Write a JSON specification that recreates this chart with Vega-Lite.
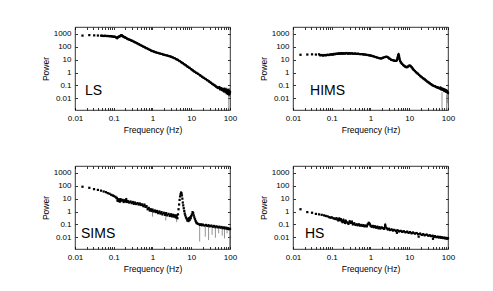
{
"$schema":"https://vega.github.io/schema/vega-lite/v6.json",
"autosize":{"type":"pad"},
"padding":{"left":40,"top":26,"right":5,"bottom":5},
"background":"white",
"config":{"view":{"stroke":"#000","strokeWidth":0.8},
"axis":{"grid":false,"domain":false,"tickSize":-2.5,"tickColor":"#000","tickWidth":0.8,"labelPadding":6.5,"titlePadding":3,"labelFont":"Liberation Sans","labelFontSize":8,"labelColor":"#000","titleFont":"Liberation Sans","titleFontSize":8.5,"titleFontWeight":"normal","titleColor":"#000","labelOverlap":false,"labelFlush":false},
"text":{"font":"Liberation Sans"}},
"datasets":{
"labels":[{"panel":"LS","f":0.018,"p":0.035,"name":"LS"},{"panel":"HIMS","f":0.0275,"p":0.035,"name":"HIMS"},{"panel":"SIMS","f":0.0143,"p":0.017,"name":"SIMS"},{"panel":"HS","f":0.0204,"p":0.017,"name":"HS"}],
"spikes":[
{"panel":"LS","f":93,"top":0.025,"bottom":0.0012},
{"panel":"HIMS","f":70,"top":0.03,"bottom":0.0012},
{"panel":"HIMS","f":92,"top":0.02,"bottom":0.0012},
{"panel":"HIMS","f":98,"top":0.02,"bottom":0.004},
{"panel":"SIMS","f":1.0,"top":1.0,"bottom":0.4},
{"panel":"SIMS","f":2.2,"top":0.5,"bottom":0.2},
{"panel":"SIMS","f":4.2,"top":0.4,"bottom":0.15},
{"panel":"SIMS","f":16.5,"top":0.1,"bottom":0.0046},
{"panel":"SIMS","f":23,"top":0.09,"bottom":0.011},
{"panel":"SIMS","f":28,"top":0.085,"bottom":0.006},
{"panel":"SIMS","f":34.5,"top":0.08,"bottom":0.015},
{"panel":"SIMS","f":42,"top":0.06,"bottom":0.009},
{"panel":"SIMS","f":51,"top":0.06,"bottom":0.02},
{"panel":"SIMS","f":63,"top":0.06,"bottom":0.013},
{"panel":"SIMS","f":72,"top":0.055,"bottom":0.008},
{"panel":"SIMS","f":84,"top":0.05,"bottom":0.02},
{"panel":"SIMS","f":98,"top":0.045,"bottom":0.0012}
],
"pts":[
{"panel":"LS","f":0.0156,"p":750,"d":0},{"panel":"LS","f":0.0234,"p":820,"d":0},{"panel":"LS","f":0.0313,"p":780,"d":0},{"panel":"LS","f":0.039,"p":760,"d":0},{"panel":"LS","f":0.047,"p":740,"d":0},
{"panel":"LS","f":0.05,"p":730,"d":1},{"panel":"LS","f":0.055,"p":700,"d":1},{"panel":"LS","f":0.06,"p":720,"d":1},{"panel":"LS","f":0.066,"p":690,"d":1},{"panel":"LS","f":0.072,"p":700,"d":1},{"panel":"LS","f":0.078,"p":670,"d":1},{"panel":"LS","f":0.085,"p":680,"d":1},{"panel":"LS","f":0.092,"p":640,"d":1},{"panel":"LS","f":0.1,"p":620,"d":1},{"panel":"LS","f":0.107,"p":600,"d":1},{"panel":"LS","f":0.115,"p":540,"d":1},{"panel":"LS","f":0.122,"p":480,"d":1},{"panel":"LS","f":0.128,"p":560,"d":1},{"panel":"LS","f":0.135,"p":620,"d":1},{"panel":"LS","f":0.142,"p":650,"d":1},{"panel":"LS","f":0.15,"p":720,"d":1},{"panel":"LS","f":0.157,"p":800,"d":1},{"panel":"LS","f":0.163,"p":760,"d":1},{"panel":"LS","f":0.17,"p":680,"d":1},{"panel":"LS","f":0.18,"p":600,"d":1},{"panel":"LS","f":0.19,"p":560,"d":1},{"panel":"LS","f":0.2,"p":520,"d":1},{"panel":"LS","f":0.22,"p":440,"d":1},{"panel":"LS","f":0.24,"p":390,"d":1},{"panel":"LS","f":0.26,"p":350,"d":1},{"panel":"LS","f":0.28,"p":320,"d":1},{"panel":"LS","f":0.3,"p":290,"d":1},{"panel":"LS","f":0.33,"p":250,"d":1},{"panel":"LS","f":0.36,"p":220,"d":1},{"panel":"LS","f":0.4,"p":190,"d":1},{"panel":"LS","f":0.44,"p":160,"d":1},{"panel":"LS","f":0.48,"p":140,"d":1},{"panel":"LS","f":0.53,"p":120,"d":1},{"panel":"LS","f":0.58,"p":105,"d":1},{"panel":"LS","f":0.64,"p":90,"d":1},{"panel":"LS","f":0.7,"p":78,"d":1},{"panel":"LS","f":0.77,"p":68,"d":1},{"panel":"LS","f":0.85,"p":58,"d":1},{"panel":"LS","f":0.93,"p":51,"d":1},{"panel":"LS","f":1.0,"p":46,"d":1},{"panel":"LS","f":1.1,"p":42,"d":1},{"panel":"LS","f":1.2,"p":38,"d":1},{"panel":"LS","f":1.35,"p":34,"d":1},{"panel":"LS","f":1.5,"p":31,"d":1},{"panel":"LS","f":1.7,"p":28,"d":1},{"panel":"LS","f":1.9,"p":25,"d":1},{"panel":"LS","f":2.1,"p":23,"d":1},{"panel":"LS","f":2.4,"p":21,"d":1},{"panel":"LS","f":2.7,"p":19,"d":1},{"panel":"LS","f":3.0,"p":17,"d":1},{"panel":"LS","f":3.3,"p":15,"d":1},{"panel":"LS","f":3.7,"p":13,"d":1},{"panel":"LS","f":4.1,"p":11,"d":1},{"panel":"LS","f":4.5,"p":9.5,"d":1},{"panel":"LS","f":5,"p":7.8,"d":1},{"panel":"LS","f":5.5,"p":6.4,"d":1},{"panel":"LS","f":6,"p":5.4,"d":1},{"panel":"LS","f":6.6,"p":4.4,"d":1},{"panel":"LS","f":7.2,"p":3.7,"d":1},{"panel":"LS","f":8,"p":2.9,"d":1},{"panel":"LS","f":9,"p":2.3,"d":1},{"panel":"LS","f":10,"p":1.8,"d":1},{"panel":"LS","f":11,"p":1.45,"d":1},{"panel":"LS","f":12,"p":1.2,"d":1},{"panel":"LS","f":13.5,"p":0.95,"d":1},{"panel":"LS","f":15,"p":0.78,"d":1},{"panel":"LS","f":17,"p":0.6,"d":1},{"panel":"LS","f":19,"p":0.47,"d":1},{"panel":"LS","f":21,"p":0.38,"d":1},{"panel":"LS","f":23.5,"p":0.31,"d":1},{"panel":"LS","f":26,"p":0.25,"d":1},{"panel":"LS","f":29,"p":0.2,"d":1},{"panel":"LS","f":32,"p":0.16,"d":1},{"panel":"LS","f":35,"p":0.13,"d":1},{"panel":"LS","f":38,"p":0.11,"d":1},{"panel":"LS","f":41,"p":0.095,"d":1},{"panel":"LS","f":44,"p":0.08,"d":1},{"panel":"LS","f":47,"p":0.07,"d":1},{"panel":"LS","f":50,"p":0.062,"d":1},{"panel":"LS","f":53,"p":0.07,"d":1},{"panel":"LS","f":56,"p":0.05,"d":1},{"panel":"LS","f":59,"p":0.058,"d":1},{"panel":"LS","f":62,"p":0.045,"d":1},{"panel":"LS","f":65,"p":0.052,"d":1},{"panel":"LS","f":68,"p":0.038,"d":1},{"panel":"LS","f":71,"p":0.048,"d":1},{"panel":"LS","f":74,"p":0.035,"d":1},{"panel":"LS","f":77,"p":0.044,"d":1},{"panel":"LS","f":80,"p":0.03,"d":1},{"panel":"LS","f":83,"p":0.04,"d":1},{"panel":"LS","f":86,"p":0.028,"d":1},{"panel":"LS","f":89,"p":0.036,"d":1},{"panel":"LS","f":92,"p":0.025,"d":1},{"panel":"LS","f":95,"p":0.034,"d":1},{"panel":"LS","f":98,"p":0.024,"d":1},{"panel":"LS","f":100,"p":0.03,"d":1},

{"panel":"HIMS","f":0.0156,"p":24,"d":0},{"panel":"HIMS","f":0.0234,"p":25,"d":0},{"panel":"HIMS","f":0.031,"p":26,"d":0},{"panel":"HIMS","f":0.039,"p":25,"d":0},{"panel":"HIMS","f":0.047,"p":26,"d":0},
{"panel":"HIMS","f":0.05,"p":22,"d":1},{"panel":"HIMS","f":0.055,"p":23,"d":1},{"panel":"HIMS","f":0.06,"p":21,"d":1},{"panel":"HIMS","f":0.066,"p":23,"d":1},{"panel":"HIMS","f":0.072,"p":22,"d":1},{"panel":"HIMS","f":0.078,"p":24,"d":1},{"panel":"HIMS","f":0.085,"p":23,"d":1},{"panel":"HIMS","f":0.092,"p":25,"d":1},{"panel":"HIMS","f":0.1,"p":26,"d":1},{"panel":"HIMS","f":0.107,"p":25,"d":1},{"panel":"HIMS","f":0.115,"p":28,"d":1},{"panel":"HIMS","f":0.122,"p":27,"d":1},{"panel":"HIMS","f":0.13,"p":29,"d":1},{"panel":"HIMS","f":0.14,"p":28,"d":1},{"panel":"HIMS","f":0.15,"p":31,"d":1},{"panel":"HIMS","f":0.16,"p":29,"d":1},{"panel":"HIMS","f":0.17,"p":30,"d":1},{"panel":"HIMS","f":0.18,"p":32,"d":1},{"panel":"HIMS","f":0.19,"p":29,"d":1},{"panel":"HIMS","f":0.2,"p":31,"d":1},{"panel":"HIMS","f":0.22,"p":30,"d":1},{"panel":"HIMS","f":0.24,"p":33,"d":1},{"panel":"HIMS","f":0.26,"p":29,"d":1},{"panel":"HIMS","f":0.28,"p":32,"d":1},{"panel":"HIMS","f":0.3,"p":30,"d":1},{"panel":"HIMS","f":0.33,"p":31,"d":1},{"panel":"HIMS","f":0.36,"p":29,"d":1},{"panel":"HIMS","f":0.4,"p":30,"d":1},{"panel":"HIMS","f":0.44,"p":28,"d":1},{"panel":"HIMS","f":0.48,"p":29,"d":1},{"panel":"HIMS","f":0.53,"p":27,"d":1},{"panel":"HIMS","f":0.58,"p":27,"d":1},{"panel":"HIMS","f":0.64,"p":26,"d":1},{"panel":"HIMS","f":0.7,"p":25,"d":1},{"panel":"HIMS","f":0.77,"p":24,"d":1},{"panel":"HIMS","f":0.85,"p":23,"d":1},{"panel":"HIMS","f":0.93,"p":22,"d":1},{"panel":"HIMS","f":1.0,"p":21,"d":1},{"panel":"HIMS","f":1.1,"p":19.5,"d":1},{"panel":"HIMS","f":1.2,"p":18,"d":1},{"panel":"HIMS","f":1.35,"p":16,"d":1},{"panel":"HIMS","f":1.5,"p":14.5,"d":1},{"panel":"HIMS","f":1.7,"p":13,"d":1},{"panel":"HIMS","f":1.9,"p":12.5,"d":1},{"panel":"HIMS","f":2.1,"p":14,"d":1},{"panel":"HIMS","f":2.35,"p":16,"d":1},{"panel":"HIMS","f":2.6,"p":17,"d":1},{"panel":"HIMS","f":2.85,"p":15,"d":1},{"panel":"HIMS","f":3.1,"p":12,"d":1},{"panel":"HIMS","f":3.4,"p":10,"d":1},{"panel":"HIMS","f":3.7,"p":9.2,"d":1},{"panel":"HIMS","f":4.0,"p":8.5,"d":1},{"panel":"HIMS","f":4.3,"p":8,"d":1},{"panel":"HIMS","f":4.6,"p":8,"d":1},{"panel":"HIMS","f":4.85,"p":9.5,"d":1},{"panel":"HIMS","f":5.0,"p":14,"d":1},{"panel":"HIMS","f":5.15,"p":22,"d":1},{"panel":"HIMS","f":5.3,"p":25,"d":1},{"panel":"HIMS","f":5.45,"p":19,"d":1},{"panel":"HIMS","f":5.6,"p":12,"d":1},{"panel":"HIMS","f":5.8,"p":8,"d":1},{"panel":"HIMS","f":6.1,"p":6,"d":1},{"panel":"HIMS","f":6.5,"p":4.8,"d":1},{"panel":"HIMS","f":7,"p":3.8,"d":1},{"panel":"HIMS","f":7.5,"p":3.2,"d":1},{"panel":"HIMS","f":8,"p":2.8,"d":1},{"panel":"HIMS","f":8.5,"p":2.6,"d":1},{"panel":"HIMS","f":9,"p":2.7,"d":1},{"panel":"HIMS","f":9.6,"p":3.2,"d":1},{"panel":"HIMS","f":10.2,"p":3.5,"d":1},{"panel":"HIMS","f":10.8,"p":3.2,"d":1},{"panel":"HIMS","f":11.5,"p":2.6,"d":1},{"panel":"HIMS","f":12.3,"p":2.0,"d":1},{"panel":"HIMS","f":13,"p":1.6,"d":1},{"panel":"HIMS","f":14,"p":1.3,"d":1},{"panel":"HIMS","f":15,"p":1.05,"d":1},{"panel":"HIMS","f":16.5,"p":0.82,"d":1},{"panel":"HIMS","f":18,"p":0.65,"d":1},{"panel":"HIMS","f":19.5,"p":0.52,"d":1},{"panel":"HIMS","f":21,"p":0.43,"d":1},{"panel":"HIMS","f":23,"p":0.35,"d":1},{"panel":"HIMS","f":25,"p":0.29,"d":1},{"panel":"HIMS","f":27,"p":0.24,"d":1},{"panel":"HIMS","f":29,"p":0.2,"d":1},{"panel":"HIMS","f":31.5,"p":0.17,"d":1},{"panel":"HIMS","f":34,"p":0.14,"d":1},{"panel":"HIMS","f":37,"p":0.12,"d":1},{"panel":"HIMS","f":40,"p":0.1,"d":1},{"panel":"HIMS","f":43,"p":0.09,"d":1},{"panel":"HIMS","f":46,"p":0.085,"d":1},{"panel":"HIMS","f":49,"p":0.075,"d":1},{"panel":"HIMS","f":52,"p":0.07,"d":1},{"panel":"HIMS","f":55,"p":0.068,"d":1},{"panel":"HIMS","f":58,"p":0.062,"d":1},{"panel":"HIMS","f":61,"p":0.058,"d":1},{"panel":"HIMS","f":64,"p":0.065,"d":1},{"panel":"HIMS","f":67,"p":0.05,"d":1},{"panel":"HIMS","f":70,"p":0.055,"d":1},{"panel":"HIMS","f":73,"p":0.045,"d":1},{"panel":"HIMS","f":76,"p":0.05,"d":1},{"panel":"HIMS","f":79,"p":0.04,"d":1},{"panel":"HIMS","f":82,"p":0.045,"d":1},{"panel":"HIMS","f":85,"p":0.036,"d":1},{"panel":"HIMS","f":88,"p":0.04,"d":1},{"panel":"HIMS","f":91,"p":0.032,"d":1},{"panel":"HIMS","f":94,"p":0.036,"d":1},{"panel":"HIMS","f":97,"p":0.03,"d":1},{"panel":"HIMS","f":100,"p":0.025,"d":1},

{"panel":"SIMS","f":0.0156,"p":85,"d":0},{"panel":"SIMS","f":0.0234,"p":70,"d":0},{"panel":"SIMS","f":0.031,"p":55,"d":0},{"panel":"SIMS","f":0.039,"p":48,"d":0},{"panel":"SIMS","f":0.047,"p":42,"d":0},{"panel":"SIMS","f":0.055,"p":36,"d":0},{"panel":"SIMS","f":0.063,"p":32,"d":0},{"panel":"SIMS","f":0.07,"p":27,"d":0},{"panel":"SIMS","f":0.078,"p":24,"d":0},{"panel":"SIMS","f":0.086,"p":20,"d":0},{"panel":"SIMS","f":0.094,"p":18,"d":0},{"panel":"SIMS","f":0.1,"p":16,"d":0},{"panel":"SIMS","f":0.11,"p":14,"d":0},{"panel":"SIMS","f":0.117,"p":12,"d":0},
{"panel":"SIMS","f":0.12,"p":11,"d":1},{"panel":"SIMS","f":0.125,"p":7,"d":1},{"panel":"SIMS","f":0.13,"p":9,"d":1},{"panel":"SIMS","f":0.135,"p":6.5,"d":1},{"panel":"SIMS","f":0.14,"p":8.5,"d":1},{"panel":"SIMS","f":0.145,"p":6,"d":1},{"panel":"SIMS","f":0.15,"p":9,"d":1},{"panel":"SIMS","f":0.16,"p":7,"d":1},{"panel":"SIMS","f":0.17,"p":8,"d":1},{"panel":"SIMS","f":0.18,"p":5.5,"d":1},{"panel":"SIMS","f":0.19,"p":7.5,"d":1},{"panel":"SIMS","f":0.2,"p":6,"d":1},{"panel":"SIMS","f":0.21,"p":9,"d":1},{"panel":"SIMS","f":0.22,"p":5.5,"d":1},{"panel":"SIMS","f":0.23,"p":6.5,"d":1},{"panel":"SIMS","f":0.25,"p":5,"d":1},{"panel":"SIMS","f":0.27,"p":6,"d":1},{"panel":"SIMS","f":0.29,"p":4.5,"d":1},{"panel":"SIMS","f":0.31,"p":5.5,"d":1},{"panel":"SIMS","f":0.33,"p":4,"d":1},{"panel":"SIMS","f":0.35,"p":5,"d":1},{"panel":"SIMS","f":0.38,"p":3.8,"d":1},{"panel":"SIMS","f":0.41,"p":4.5,"d":1},{"panel":"SIMS","f":0.44,"p":3.5,"d":1},{"panel":"SIMS","f":0.47,"p":4.2,"d":1},{"panel":"SIMS","f":0.5,"p":3.2,"d":1},{"panel":"SIMS","f":0.54,"p":3.6,"d":1},{"panel":"SIMS","f":0.58,"p":2.6,"d":1},{"panel":"SIMS","f":0.62,"p":3.4,"d":1},{"panel":"SIMS","f":0.66,"p":2.3,"d":1},{"panel":"SIMS","f":0.7,"p":2.6,"d":1},{"panel":"SIMS","f":0.75,"p":1.5,"d":1},{"panel":"SIMS","f":0.8,"p":1.9,"d":1},{"panel":"SIMS","f":0.85,"p":1.2,"d":1},{"panel":"SIMS","f":0.9,"p":1.5,"d":1},{"panel":"SIMS","f":0.95,"p":1.1,"d":1},{"panel":"SIMS","f":1.0,"p":1.4,"d":1},{"panel":"SIMS","f":1.07,"p":1.0,"d":1},{"panel":"SIMS","f":1.15,"p":1.2,"d":1},{"panel":"SIMS","f":1.22,"p":0.9,"d":1},{"panel":"SIMS","f":1.3,"p":1.1,"d":1},{"panel":"SIMS","f":1.4,"p":0.75,"d":1},{"panel":"SIMS","f":1.5,"p":1.0,"d":1},{"panel":"SIMS","f":1.6,"p":0.7,"d":1},{"panel":"SIMS","f":1.7,"p":0.9,"d":1},{"panel":"SIMS","f":1.8,"p":0.6,"d":1},{"panel":"SIMS","f":1.95,"p":0.8,"d":1},{"panel":"SIMS","f":2.1,"p":0.55,"d":1},{"panel":"SIMS","f":2.25,"p":0.75,"d":1},{"panel":"SIMS","f":2.4,"p":0.5,"d":1},{"panel":"SIMS","f":2.6,"p":0.65,"d":1},{"panel":"SIMS","f":2.8,"p":0.45,"d":1},{"panel":"SIMS","f":3.0,"p":0.6,"d":1},{"panel":"SIMS","f":3.2,"p":0.42,"d":1},{"panel":"SIMS","f":3.4,"p":0.55,"d":1},{"panel":"SIMS","f":3.6,"p":0.4,"d":1},{"panel":"SIMS","f":3.8,"p":0.5,"d":1},{"panel":"SIMS","f":4.0,"p":0.35,"d":1},{"panel":"SIMS","f":4.2,"p":0.48,"d":1},{"panel":"SIMS","f":4.4,"p":0.3,"d":1},
{"panel":"SIMS","f":4.55,"p":0.6,"d":0},{"panel":"SIMS","f":4.7,"p":1.5,"d":0},{"panel":"SIMS","f":4.85,"p":3.5,"d":0},{"panel":"SIMS","f":5.0,"p":8,"d":0},{"panel":"SIMS","f":5.15,"p":15,"d":0},{"panel":"SIMS","f":5.3,"p":22,"d":0},{"panel":"SIMS","f":5.45,"p":30,"d":0},{"panel":"SIMS","f":5.6,"p":26,"d":0},{"panel":"SIMS","f":5.75,"p":18,"d":0},{"panel":"SIMS","f":5.9,"p":10,"d":0},{"panel":"SIMS","f":6.05,"p":5,"d":0},{"panel":"SIMS","f":6.2,"p":3,"d":0},{"panel":"SIMS","f":6.4,"p":1.8,"d":0},{"panel":"SIMS","f":6.6,"p":1.1,"d":0},{"panel":"SIMS","f":6.8,"p":0.7,"d":0},{"panel":"SIMS","f":7.0,"p":0.5,"d":0},{"panel":"SIMS","f":7.3,"p":0.35,"d":0},{"panel":"SIMS","f":7.6,"p":0.28,"d":0},{"panel":"SIMS","f":7.9,"p":0.2,"d":0},{"panel":"SIMS","f":8.2,"p":0.25,"d":0},{"panel":"SIMS","f":8.5,"p":0.18,"d":0},{"panel":"SIMS","f":8.8,"p":0.3,"d":0},{"panel":"SIMS","f":9.1,"p":0.22,"d":0},{"panel":"SIMS","f":9.4,"p":0.35,"d":0},{"panel":"SIMS","f":9.7,"p":0.3,"d":0},{"panel":"SIMS","f":10,"p":0.45,"d":0},{"panel":"SIMS","f":10.4,"p":0.6,"d":0},{"panel":"SIMS","f":10.8,"p":0.9,"d":0},{"panel":"SIMS","f":11.2,"p":0.75,"d":0},{"panel":"SIMS","f":11.6,"p":0.5,"d":0},{"panel":"SIMS","f":12,"p":0.35,"d":0},{"panel":"SIMS","f":12.5,"p":0.25,"d":0},
{"panel":"SIMS","f":13,"p":0.18,"d":2},{"panel":"SIMS","f":13.5,"p":0.14,"d":2},{"panel":"SIMS","f":14,"p":0.12,"d":2},{"panel":"SIMS","f":15,"p":0.11,"d":2},{"panel":"SIMS","f":16,"p":0.1,"d":2},{"panel":"SIMS","f":17,"p":0.09,"d":2},{"panel":"SIMS","f":18,"p":0.1,"d":2},{"panel":"SIMS","f":19,"p":0.085,"d":2},{"panel":"SIMS","f":20,"p":0.095,"d":2},{"panel":"SIMS","f":22,"p":0.08,"d":2},{"panel":"SIMS","f":24,"p":0.09,"d":2},{"panel":"SIMS","f":26,"p":0.075,"d":2},{"panel":"SIMS","f":28,"p":0.085,"d":2},{"panel":"SIMS","f":30,"p":0.07,"d":2},{"panel":"SIMS","f":33,"p":0.08,"d":2},{"panel":"SIMS","f":36,"p":0.065,"d":2},{"panel":"SIMS","f":39,"p":0.075,"d":2},{"panel":"SIMS","f":42,"p":0.06,"d":2},{"panel":"SIMS","f":45,"p":0.07,"d":2},{"panel":"SIMS","f":49,"p":0.058,"d":2},{"panel":"SIMS","f":53,"p":0.065,"d":2},{"panel":"SIMS","f":57,"p":0.055,"d":2},{"panel":"SIMS","f":61,"p":0.062,"d":2},{"panel":"SIMS","f":65,"p":0.05,"d":2},{"panel":"SIMS","f":70,"p":0.058,"d":2},{"panel":"SIMS","f":75,"p":0.048,"d":2},{"panel":"SIMS","f":80,"p":0.055,"d":2},{"panel":"SIMS","f":85,"p":0.045,"d":2},{"panel":"SIMS","f":90,"p":0.05,"d":2},{"panel":"SIMS","f":95,"p":0.042,"d":2},{"panel":"SIMS","f":100,"p":0.045,"d":2},

{"panel":"HS","f":0.0156,"p":1.5,"d":0},{"panel":"HS","f":0.0234,"p":0.9,"d":0},{"panel":"HS","f":0.031,"p":0.8,"d":0},{"panel":"HS","f":0.039,"p":0.65,"d":0},{"panel":"HS","f":0.047,"p":0.6,"d":0},{"panel":"HS","f":0.055,"p":0.55,"d":0},{"panel":"HS","f":0.063,"p":0.5,"d":0},{"panel":"HS","f":0.07,"p":0.45,"d":0},{"panel":"HS","f":0.078,"p":0.42,"d":0},{"panel":"HS","f":0.086,"p":0.36,"d":0},{"panel":"HS","f":0.094,"p":0.33,"d":0},{"panel":"HS","f":0.1,"p":0.35,"d":0},{"panel":"HS","f":0.11,"p":0.3,"d":0},{"panel":"HS","f":0.117,"p":0.28,"d":0},{"panel":"HS","f":0.125,"p":0.26,"d":0},{"panel":"HS","f":0.133,"p":0.3,"d":0},{"panel":"HS","f":0.14,"p":0.24,"d":0},
{"panel":"HS","f":0.148,"p":0.2,"d":1},{"panel":"HS","f":0.156,"p":0.28,"d":1},{"panel":"HS","f":0.164,"p":0.22,"d":1},{"panel":"HS","f":0.172,"p":0.25,"d":1},{"panel":"HS","f":0.18,"p":0.18,"d":1},{"panel":"HS","f":0.19,"p":0.15,"d":1},{"panel":"HS","f":0.2,"p":0.22,"d":1},{"panel":"HS","f":0.21,"p":0.16,"d":1},{"panel":"HS","f":0.22,"p":0.13,"d":1},{"panel":"HS","f":0.23,"p":0.19,"d":1},{"panel":"HS","f":0.25,"p":0.14,"d":1},{"panel":"HS","f":0.27,"p":0.11,"d":1},{"panel":"HS","f":0.29,"p":0.17,"d":1},{"panel":"HS","f":0.31,"p":0.13,"d":1},{"panel":"HS","f":0.33,"p":0.16,"d":1},{"panel":"HS","f":0.35,"p":0.1,"d":1},{"panel":"HS","f":0.38,"p":0.12,"d":1},{"panel":"HS","f":0.41,"p":0.09,"d":1},{"panel":"HS","f":0.44,"p":0.1,"d":1},{"panel":"HS","f":0.47,"p":0.085,"d":1},{"panel":"HS","f":0.5,"p":0.1,"d":1},{"panel":"HS","f":0.54,"p":0.08,"d":1},{"panel":"HS","f":0.58,"p":0.09,"d":1},{"panel":"HS","f":0.62,"p":0.075,"d":1},{"panel":"HS","f":0.66,"p":0.085,"d":1},{"panel":"HS","f":0.7,"p":0.07,"d":1},{"panel":"HS","f":0.75,"p":0.08,"d":1},{"panel":"HS","f":0.8,"p":0.07,"d":1},{"panel":"HS","f":0.85,"p":0.1,"d":1},{"panel":"HS","f":0.9,"p":0.13,"d":1},{"panel":"HS","f":0.95,"p":0.11,"d":1},{"panel":"HS","f":1.0,"p":0.08,"d":1},{"panel":"HS","f":1.07,"p":0.065,"d":1},{"panel":"HS","f":1.15,"p":0.075,"d":1},{"panel":"HS","f":1.22,"p":0.06,"d":1},{"panel":"HS","f":1.3,"p":0.07,"d":1},{"panel":"HS","f":1.4,"p":0.055,"d":1},{"panel":"HS","f":1.5,"p":0.065,"d":1},{"panel":"HS","f":1.6,"p":0.05,"d":1},{"panel":"HS","f":1.7,"p":0.06,"d":1},{"panel":"HS","f":1.8,"p":0.048,"d":1},{"panel":"HS","f":1.95,"p":0.058,"d":1},{"panel":"HS","f":2.1,"p":0.05,"d":1},{"panel":"HS","f":2.25,"p":0.045,"d":1},{"panel":"HS","f":2.4,"p":0.09,"d":1},{"panel":"HS","f":2.6,"p":0.05,"d":1},{"panel":"HS","f":2.8,"p":0.04,"d":1},{"panel":"HS","f":3.0,"p":0.045,"d":1},{"panel":"HS","f":3.2,"p":0.036,"d":1},{"panel":"HS","f":3.5,"p":0.04,"d":1},{"panel":"HS","f":3.8,"p":0.033,"d":1},{"panel":"HS","f":4.1,"p":0.037,"d":1},{"panel":"HS","f":4.5,"p":0.031,"d":1},{"panel":"HS","f":5,"p":0.034,"d":1},{"panel":"HS","f":5.5,"p":0.028,"d":1},{"panel":"HS","f":6,"p":0.031,"d":1},{"panel":"HS","f":6.6,"p":0.026,"d":1},{"panel":"HS","f":7.2,"p":0.029,"d":1},{"panel":"HS","f":8,"p":0.024,"d":1},{"panel":"HS","f":8.8,"p":0.027,"d":1},{"panel":"HS","f":9.6,"p":0.022,"d":1},{"panel":"HS","f":10.5,"p":0.025,"d":1},{"panel":"HS","f":11.5,"p":0.02,"d":1},{"panel":"HS","f":12.5,"p":0.023,"d":1},{"panel":"HS","f":14,"p":0.019,"d":1},{"panel":"HS","f":15.5,"p":0.021,"d":1},{"panel":"HS","f":17,"p":0.017,"d":1},{"panel":"HS","f":19,"p":0.019,"d":1},{"panel":"HS","f":21,"p":0.015,"d":1},{"panel":"HS","f":23,"p":0.017,"d":1},{"panel":"HS","f":25,"p":0.014,"d":1},{"panel":"HS","f":28,"p":0.016,"d":1},{"panel":"HS","f":31,"p":0.013,"d":1},{"panel":"HS","f":34,"p":0.014,"d":1},{"panel":"HS","f":37,"p":0.012,"d":1},{"panel":"HS","f":40,"p":0.013,"d":1},{"panel":"HS","f":43,"p":0.0105,"d":1},{"panel":"HS","f":46,"p":0.012,"d":1},{"panel":"HS","f":50,"p":0.01,"d":1},{"panel":"HS","f":54,"p":0.011,"d":1},{"panel":"HS","f":58,"p":0.0095,"d":1},{"panel":"HS","f":62,"p":0.0105,"d":1},{"panel":"HS","f":66,"p":0.009,"d":1},{"panel":"HS","f":70,"p":0.0098,"d":1},{"panel":"HS","f":75,"p":0.0085,"d":1},{"panel":"HS","f":80,"p":0.0093,"d":1},{"panel":"HS","f":85,"p":0.008,"d":1},{"panel":"HS","f":90,"p":0.0088,"d":1},{"panel":"HS","f":95,"p":0.0076,"d":1},{"panel":"HS","f":100,"p":0.0083,"d":1},
{"panel":"HS","f":17.5,"p":0.011,"d":0},{"panel":"HS","f":41,"p":0.0075,"d":0},{"panel":"HS","f":4.8,"p":0.022,"d":0}
]},
"columns":2,
"spacing":{"row":56,"column":63},
"bounds":"flush",
"concat":[
{"width":155,"height":83,"layer":[
{"data":{"name":"spikes"},"transform":[{"filter":"datum.panel=='LS'"}],"mark":{"type":"rule","color":"#777","strokeWidth":0.8},"encoding":{"x":{"field":"f","type":"quantitative","scale":{"type":"log","domain":[0.01,100],"nice":false},"axis":{"orient":"bottom","values":[0.01,0.02,0.03,0.04,0.05,0.06,0.07,0.08,0.09,0.1,0.2,0.3,0.4,0.5,0.6,0.7,0.8,0.9,1,2,3,4,5,6,7,8,9,10,20,30,40,50,60,70,80,90,100],"labelExpr":"indexof([0.01,0.1,1,10,100], datum.value) >= 0 ? format(datum.value, '~g') : ''","title":"Frequency (Hz)"}},"y":{"field":"top","type":"quantitative","scale":{"type":"log","domain":[0.0012,3500],"nice":false},"axis":{"orient":"left","values":[0.01,0.1,1,10,100,1000],"format":"~g","title":"Power"}},"y2":{"field":"bottom"}}},
{"data":{"name":"pts"},"transform":[{"filter":"datum.panel=='LS' && datum.d>0"}],"mark":{"type":"line","color":"#000","strokeWidth":2},"encoding":{"detail":{"field":"d","type":"nominal"},"x":{"field":"f","type":"quantitative","scale":{"type":"log","domain":[0.01,100],"nice":false},"axis":{"orient":"top","values":[0.01,0.02,0.03,0.04,0.05,0.06,0.07,0.08,0.09,0.1,0.2,0.3,0.4,0.5,0.6,0.7,0.8,0.9,1,2,3,4,5,6,7,8,9,10,20,30,40,50,60,70,80,90,100],"labels":false,"title":null}},"y":{"field":"p","type":"quantitative","scale":{"type":"log","domain":[0.0012,3500],"nice":false},"axis":{"orient":"right","values":[0.01,0.1,1,10,100,1000],"labels":false,"title":null}}}},
{"data":{"name":"pts"},"transform":[{"filter":"datum.panel=='LS'"}],"mark":{"type":"point","shape":"square","filled":true,"size":5,"color":"#000","opacity":1},"encoding":{"x":{"field":"f","type":"quantitative","axis":null},"y":{"field":"p","type":"quantitative","axis":null}}},
{"data":{"name":"labels"},"transform":[{"filter":"datum.panel=='LS'"}],"mark":{"type":"text","fontSize":14,"align":"left","baseline":"middle","color":"#000"},"encoding":{"x":{"field":"f","type":"quantitative","axis":null},"y":{"field":"p","type":"quantitative","axis":null},"text":{"field":"name"}}}
]},
{"width":155,"height":83,"layer":[
{"data":{"name":"spikes"},"transform":[{"filter":"datum.panel=='HIMS'"}],"mark":{"type":"rule","color":"#777","strokeWidth":0.8},"encoding":{"x":{"field":"f","type":"quantitative","scale":{"type":"log","domain":[0.01,100],"nice":false},"axis":{"orient":"bottom","values":[0.01,0.02,0.03,0.04,0.05,0.06,0.07,0.08,0.09,0.1,0.2,0.3,0.4,0.5,0.6,0.7,0.8,0.9,1,2,3,4,5,6,7,8,9,10,20,30,40,50,60,70,80,90,100],"labelExpr":"indexof([0.01,0.1,1,10,100], datum.value) >= 0 ? format(datum.value, '~g') : ''","title":"Frequency (Hz)"}},"y":{"field":"top","type":"quantitative","scale":{"type":"log","domain":[0.0012,3500],"nice":false},"axis":{"orient":"left","values":[0.01,0.1,1,10,100,1000],"format":"~g","title":"Power"}},"y2":{"field":"bottom"}}},
{"data":{"name":"pts"},"transform":[{"filter":"datum.panel=='HIMS' && datum.d>0"}],"mark":{"type":"line","color":"#000","strokeWidth":2},"encoding":{"detail":{"field":"d","type":"nominal"},"x":{"field":"f","type":"quantitative","scale":{"type":"log","domain":[0.01,100],"nice":false},"axis":{"orient":"top","values":[0.01,0.02,0.03,0.04,0.05,0.06,0.07,0.08,0.09,0.1,0.2,0.3,0.4,0.5,0.6,0.7,0.8,0.9,1,2,3,4,5,6,7,8,9,10,20,30,40,50,60,70,80,90,100],"labels":false,"title":null}},"y":{"field":"p","type":"quantitative","scale":{"type":"log","domain":[0.0012,3500],"nice":false},"axis":{"orient":"right","values":[0.01,0.1,1,10,100,1000],"labels":false,"title":null}}}},
{"data":{"name":"pts"},"transform":[{"filter":"datum.panel=='HIMS'"}],"mark":{"type":"point","shape":"square","filled":true,"size":5,"color":"#000","opacity":1},"encoding":{"x":{"field":"f","type":"quantitative","axis":null},"y":{"field":"p","type":"quantitative","axis":null}}},
{"data":{"name":"labels"},"transform":[{"filter":"datum.panel=='HIMS'"}],"mark":{"type":"text","fontSize":14,"align":"left","baseline":"middle","color":"#000"},"encoding":{"x":{"field":"f","type":"quantitative","axis":null},"y":{"field":"p","type":"quantitative","axis":null},"text":{"field":"name"}}}
]},
{"width":155,"height":83,"layer":[
{"data":{"name":"spikes"},"transform":[{"filter":"datum.panel=='SIMS'"}],"mark":{"type":"rule","color":"#777","strokeWidth":0.8},"encoding":{"x":{"field":"f","type":"quantitative","scale":{"type":"log","domain":[0.01,100],"nice":false},"axis":{"orient":"bottom","values":[0.01,0.02,0.03,0.04,0.05,0.06,0.07,0.08,0.09,0.1,0.2,0.3,0.4,0.5,0.6,0.7,0.8,0.9,1,2,3,4,5,6,7,8,9,10,20,30,40,50,60,70,80,90,100],"labelExpr":"indexof([0.01,0.1,1,10,100], datum.value) >= 0 ? format(datum.value, '~g') : ''","title":"Frequency (Hz)"}},"y":{"field":"top","type":"quantitative","scale":{"type":"log","domain":[0.0012,3500],"nice":false},"axis":{"orient":"left","values":[0.01,0.1,1,10,100,1000],"format":"~g","title":"Power"}},"y2":{"field":"bottom"}}},
{"data":{"name":"pts"},"transform":[{"filter":"datum.panel=='SIMS' && datum.d>0"}],"mark":{"type":"line","color":"#000","strokeWidth":1.1},"encoding":{"detail":{"field":"d","type":"nominal"},"x":{"field":"f","type":"quantitative","scale":{"type":"log","domain":[0.01,100],"nice":false},"axis":{"orient":"top","values":[0.01,0.02,0.03,0.04,0.05,0.06,0.07,0.08,0.09,0.1,0.2,0.3,0.4,0.5,0.6,0.7,0.8,0.9,1,2,3,4,5,6,7,8,9,10,20,30,40,50,60,70,80,90,100],"labels":false,"title":null}},"y":{"field":"p","type":"quantitative","scale":{"type":"log","domain":[0.0012,3500],"nice":false},"axis":{"orient":"right","values":[0.01,0.1,1,10,100,1000],"labels":false,"title":null}}}},
{"data":{"name":"pts"},"transform":[{"filter":"datum.panel=='SIMS'"}],"mark":{"type":"point","shape":"square","filled":true,"size":5,"color":"#000","opacity":1},"encoding":{"x":{"field":"f","type":"quantitative","axis":null},"y":{"field":"p","type":"quantitative","axis":null}}},
{"data":{"name":"labels"},"transform":[{"filter":"datum.panel=='SIMS'"}],"mark":{"type":"text","fontSize":14,"align":"left","baseline":"middle","color":"#000"},"encoding":{"x":{"field":"f","type":"quantitative","axis":null},"y":{"field":"p","type":"quantitative","axis":null},"text":{"field":"name"}}}
]},
{"width":155,"height":83,"layer":[
{"data":{"name":"spikes"},"transform":[{"filter":"datum.panel=='HS'"}],"mark":{"type":"rule","color":"#777","strokeWidth":0.8},"encoding":{"x":{"field":"f","type":"quantitative","scale":{"type":"log","domain":[0.01,100],"nice":false},"axis":{"orient":"bottom","values":[0.01,0.02,0.03,0.04,0.05,0.06,0.07,0.08,0.09,0.1,0.2,0.3,0.4,0.5,0.6,0.7,0.8,0.9,1,2,3,4,5,6,7,8,9,10,20,30,40,50,60,70,80,90,100],"labelExpr":"indexof([0.01,0.1,1,10,100], datum.value) >= 0 ? format(datum.value, '~g') : ''","title":"Frequency (Hz)"}},"y":{"field":"top","type":"quantitative","scale":{"type":"log","domain":[0.0012,3500],"nice":false},"axis":{"orient":"left","values":[0.01,0.1,1,10,100,1000],"format":"~g","title":"Power"}},"y2":{"field":"bottom"}}},
{"data":{"name":"pts"},"transform":[{"filter":"datum.panel=='HS' && datum.d>0"}],"mark":{"type":"line","color":"#000","strokeWidth":1.6},"encoding":{"detail":{"field":"d","type":"nominal"},"x":{"field":"f","type":"quantitative","scale":{"type":"log","domain":[0.01,100],"nice":false},"axis":{"orient":"top","values":[0.01,0.02,0.03,0.04,0.05,0.06,0.07,0.08,0.09,0.1,0.2,0.3,0.4,0.5,0.6,0.7,0.8,0.9,1,2,3,4,5,6,7,8,9,10,20,30,40,50,60,70,80,90,100],"labels":false,"title":null}},"y":{"field":"p","type":"quantitative","scale":{"type":"log","domain":[0.0012,3500],"nice":false},"axis":{"orient":"right","values":[0.01,0.1,1,10,100,1000],"labels":false,"title":null}}}},
{"data":{"name":"pts"},"transform":[{"filter":"datum.panel=='HS'"}],"mark":{"type":"point","shape":"square","filled":true,"size":5,"color":"#000","opacity":1},"encoding":{"x":{"field":"f","type":"quantitative","axis":null},"y":{"field":"p","type":"quantitative","axis":null}}},
{"data":{"name":"labels"},"transform":[{"filter":"datum.panel=='HS'"}],"mark":{"type":"text","fontSize":14,"align":"left","baseline":"middle","color":"#000"},"encoding":{"x":{"field":"f","type":"quantitative","axis":null},"y":{"field":"p","type":"quantitative","axis":null},"text":{"field":"name"}}}
]}
]
}
